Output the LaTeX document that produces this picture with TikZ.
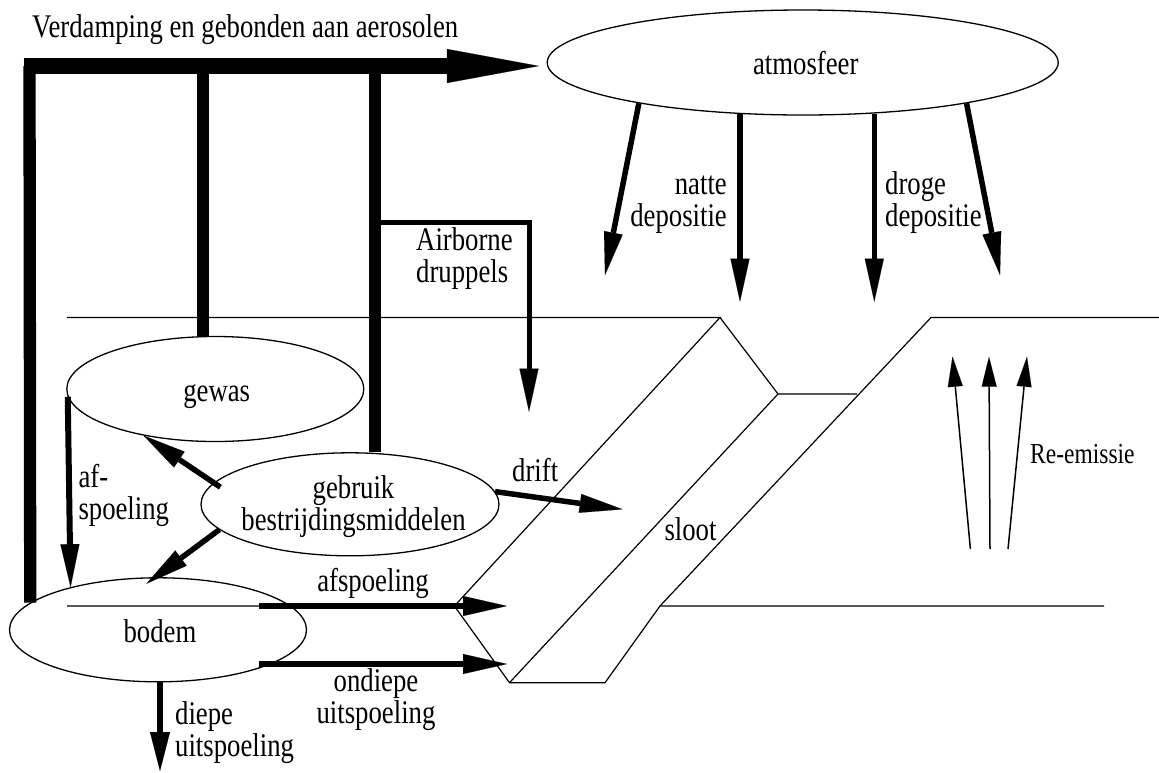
\documentclass[tikz,border=0pt]{standalone}
\usepackage{fontspec}
\setmainfont{Liberation Serif}[FakeStretch=0.81]
\usetikzlibrary{arrows.meta,shapes.geometric,calc}
\begin{document}
\begin{tikzpicture}[x=1pt,y=-1pt,
  ell/.style={ellipse,draw,line width=1.3pt,inner sep=0pt},
  lbl/.style={font=\fontsize{33}{32}\selectfont,inner sep=0pt},
  smalllbl/.style={font=\fontsize{29}{30}\selectfont,inner sep=0pt},
  ground/.style={line width=1.2pt},
  bigbar/.style={line width=12.3pt},
  medarrow/.style={line width=5.5pt,-{Triangle[length=43pt,width=19pt,line width=0.1pt]}},
  flowarrow/.style={line width=6.7pt,-{Triangle[length=44pt,width=20pt,line width=0.1pt]}},
  thinarrow/.style={line width=1.5pt,-{Triangle[length=30pt,width=15pt,line width=0.1pt]}},
]
\useasboundingbox (0,0) rectangle (1159,772);

% ground and ditch
\draw[ground] (67,606) -- (454.4,606) -- (509.5,682.7) -- (605,682.7) -- (660,606) -- (1104,606);
\draw[ground] (67,317.5) -- (720,317.5) -- (454.4,606);
\draw[ground] (720,317.5) -- (778,394) -- (857,394);
\draw[ground] (778,394) -- (509.5,682.7);
\draw[ground] (1159,317.5) -- (931,317.5) -- (660,606);

% compartments
\node[ell,minimum width=511pt,minimum height=105pt] (atmos) at (802.7,62.5) {};
\node[ell,minimum width=297pt,minimum height=105pt] (gewas) at (215.3,389) {};
\node[ell,minimum width=298pt,minimum height=103pt] (gebruik) at (350,504.3) {};
\node[ell,minimum width=297pt,minimum height=104pt] (bodem) at (158,629.8) {};

% thick volatilisation bars
\coordinate (barTL) at (23.5,66);
\coordinate (barA) at (29.5,66);
\coordinate (barB) at (203,66);
\coordinate (barC) at (375,66);
\draw[line width=15.5pt,-{Triangle[length=92pt,width=34pt,line width=0.1pt]},shorten >=7.6pt] (barTL) -- (atmos.west |- barTL);
\draw[bigbar] (bodem.168.5) -- (barA);
\draw[bigbar] (gewas.north -| barB) -- (barB);
\draw[bigbar] (gebruik.north -| barC) -- (barC);

% airborne droplets
\coordinate (airA) at (375,222);
\coordinate (airtip) at (529,411.7);
\draw[medarrow,line width=5pt,line join=miter] (airA) -| (airtip);

% deposition
\coordinate (dep1) at (605,275);
\coordinate (dep2) at (740,301.7);
\coordinate (dep3) at (874.3,301.7);
\coordinate (dep4) at (1000,275);
\draw[medarrow] (atmos.194.4) -- (dep1);
\draw[medarrow] (atmos.218.8 -| dep2) -- (dep2);
\draw[medarrow] (atmos.324.7 -| dep3) -- (dep3);
\draw[medarrow] (atmos.346.4) -- (dep4);

% re-emission
\coordinate (re1s) at (970.4,549);
\coordinate (re1t) at (952.5,356.7);
\coordinate (re2s) at (990,549);
\coordinate (re2t) at (989,356.7);
\coordinate (re3s) at (1008,549);
\coordinate (re3t) at (1027,356.7);
\draw[thinarrow] (re1s) -- (re1t);
\draw[thinarrow] (re2s) -- (re2t);
\draw[thinarrow] (re3s) -- (re3t);

% local flows
\draw[medarrow,line width=6pt] (gewas.183.8) -- (bodem.154.8);
\draw[medarrow,shorten <=-8pt] (gebruik.171.8) -- (gewas.213);
\draw[medarrow,shorten >=-11pt] (gebruik.191.2) -- (bodem.93);
\coordinate (drifttip) at (622.6,509.3);
\draw[medarrow] (gebruik.5.8) -- (drifttip);
\coordinate (afs0) at (259,606);
\coordinate (afs1) at (507,606);
\coordinate (ond0) at (259,664);
\coordinate (ond1) at (507,664);
\draw[flowarrow] (afs0) -- (afs1);
\draw[flowarrow] (ond0) -- (ond1);
\coordinate (diepetip) at (160,771);
\draw[flowarrow,-{Triangle[length=39pt,width=20pt,line width=0.1pt]}] (bodem.south -| diepetip) -- (diepetip);

% labels (base anchor of a multi-line node = baseline of its last line)
\node[lbl,anchor=base west] (verd) at (32,37.5) {Verdamping en gebonden aan aerosolen};
\node[lbl,anchor=base] (atmoslbl) at (805.8,74) {atmosfeer};
\node[lbl,anchor=base east,align=right] (natte) at (727,226) {natte\\depositie};
\node[lbl,anchor=base west,align=left] (droge) at (885,226) {droge\\depositie};
\node[lbl,anchor=base west,align=left] (airb) at (416,282) {Airborne\\druppels};
\node[lbl,anchor=base] (gewaslbl) at (216.7,401.7) {gewas};
\node[lbl,anchor=base,align=center] (gebruiklbl) at (353.5,530) {gebruik\\bestrijdingsmiddelen};
\node[lbl,anchor=base west,align=left] (afsp1) at (78.3,519.3) {af-\\spoeling};
\node[lbl,anchor=base west] (drift) at (512,481.7) {drift};
\node[lbl,anchor=base] (sloot) at (690.5,540) {sloot};
\node[smalllbl,anchor=base west] (reem) at (1030,463) {Re-emissie};
\node[lbl,anchor=base] (bodemlbl) at (160,642.7) {bodem};
\node[lbl,anchor=base] (afsp2) at (373,591.7) {afspoeling};
\node[lbl,anchor=base,align=center] (ondiepe) at (376,723.3) {ondiepe\\uitspoeling};
\node[lbl,anchor=base west,align=left] (diepe) at (175,756.7) {diepe\\uitspoeling};
\end{tikzpicture}
\end{document}
